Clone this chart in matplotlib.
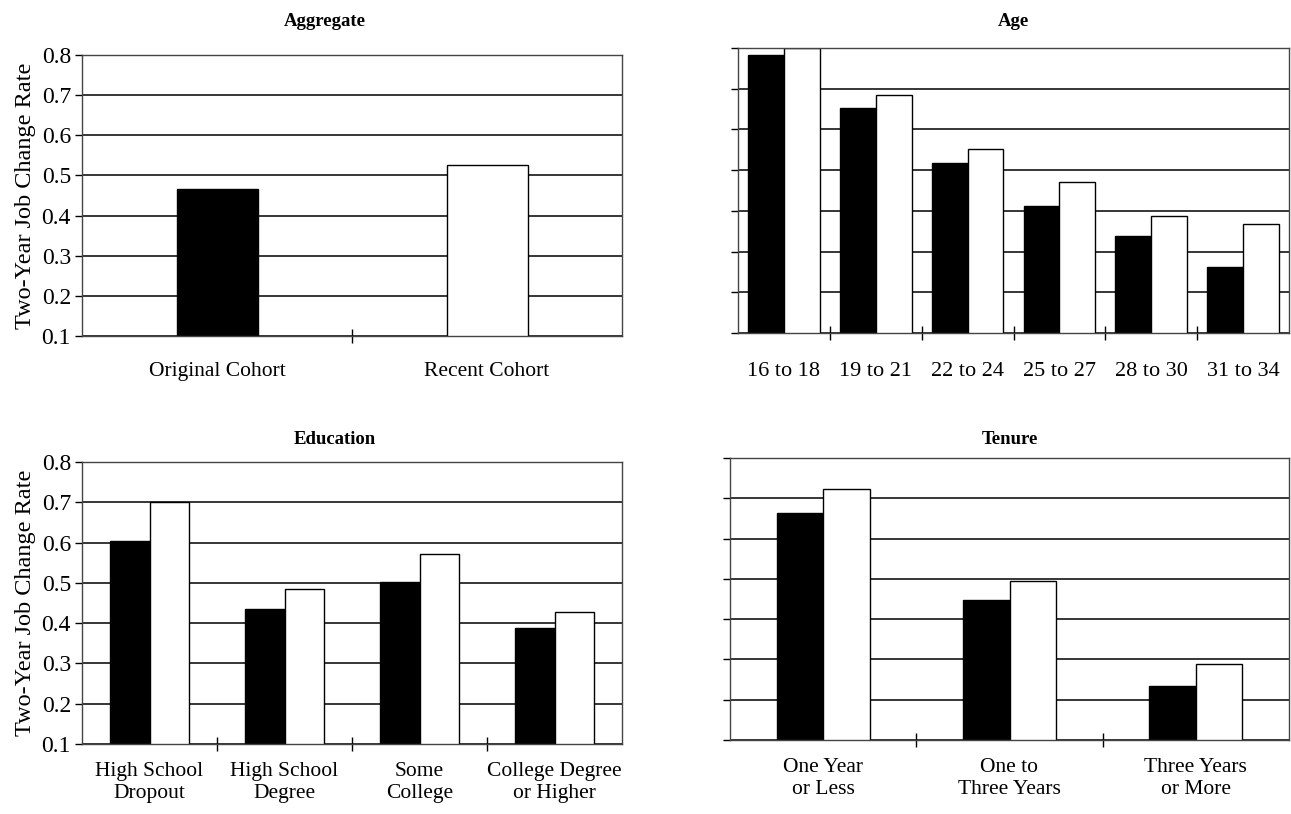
import matplotlib
matplotlib.use("Agg")
import matplotlib.pyplot as plt
import numpy as np

plt.rcParams['font.family'] = ['Liberation Serif', 'DejaVu Serif']

# data
agg_labels = ['Original Cohort', 'Recent Cohort']
agg_values = [0.465, 0.527]

age_labels = ['16 to 18', '19 to 21', '22 to 24', '25 to 27', '28 to 30', '31 to 34']
age_original = [0.783, 0.653, 0.518, 0.412, 0.338, 0.262]
age_recent = [0.80, 0.685, 0.552, 0.471, 0.387, 0.368]

edu_labels = ['High School\nDropout', 'High School\nDegree', 'Some\nCollege',
              'College Degree\nor Higher']
edu_original = [0.604, 0.435, 0.502, 0.388]
edu_recent = [0.70, 0.485, 0.572, 0.428]

ten_labels = ['One Year\nor Less', 'One to\nThree Years', 'Three Years\nor More']
ten_original = [0.663, 0.447, 0.234]
ten_recent = [0.723, 0.495, 0.289]

yticks = [0.1, 0.2, 0.3, 0.4, 0.5, 0.6, 0.7, 0.8]
ylabel = 'Two-Year Job Change Rate'

W, H = 1291, 814
fig = plt.figure(figsize=(W / 100, H / 100), dpi=100)


def px_axes(x0, y0, x1, y1):
    # pixel box (left, top, right, bottom) -> figure fraction
    return fig.add_axes([x0 / W, 1 - y1 / H, (x1 - x0) / W, (y1 - y0) / H])


def style(ax, n, labels, title, pad, tx, show_y, xfs, xpad):
    ax.set_ylim(0.1, 0.8)
    ax.set_xlim(-0.5, n - 0.5)
    ax.set_yticks(yticks)
    ax.yaxis.grid(True, color='black', lw=1.1)
    ax.set_axisbelow(True)
    for s in ax.spines.values():
        s.set_color('#444444')
        s.set_linewidth(1.0)
    ax.set_xticks(np.arange(n - 1) + 0.5)
    ax.set_xticklabels([])
    ax.set_xticks(np.arange(n), minor=True)
    ax.set_xticklabels(labels, minor=True, fontsize=xfs, linespacing=1.2)
    ax.tick_params(axis='x', which='major', direction='inout', length=10, width=1)
    ax.tick_params(axis='x', which='minor', length=0, pad=xpad)
    ax.tick_params(axis='y', direction='out', length=5, width=1, labelsize=17, pad=3)
    if show_y:
        ax.set_yticklabels(['%.1f' % v for v in yticks])
        ax.set_ylabel(ylabel, fontsize=17.5, labelpad=4)
    else:
        ax.set_yticklabels([])
    ax.set_title(title, fontsize=13.5, fontweight='bold', pad=pad, x=tx)


def pair(ax, orig, rec, width):
    x = np.arange(len(orig))
    ax.bar(x - width / 2, orig, width, color='black', edgecolor='black', lw=1)
    ax.bar(x + width / 2, rec, width, color='white', edgecolor='black', lw=1)


ax1 = px_axes(82, 55, 622, 336)
ax1.bar(np.arange(2), agg_values, 0.3, color=['black', 'white'], edgecolor='black', lw=1)
style(ax1, 2, agg_labels, 'Aggregate', 21, 0.45, True, 15.5, 19)

ax2 = px_axes(738, 48, 1289, 333)
pair(ax2, age_original, age_recent, 0.39)
style(ax2, 6, age_labels, 'Age', 16, 0.5, False, 16, 21)

ax3 = px_axes(82, 462, 622, 744)
pair(ax3, edu_original, edu_recent, 0.29)
style(ax3, 4, edu_labels, 'Education', 13, 0.468, True, 15.5, 13)

ax4 = px_axes(730, 458, 1289, 740)
pair(ax4, ten_original, ten_recent, 0.25)
style(ax4, 3, ten_labels, 'Tenure', 10, 0.5, False, 15.5, 13)

fig.savefig('out.png', dpi=100)
